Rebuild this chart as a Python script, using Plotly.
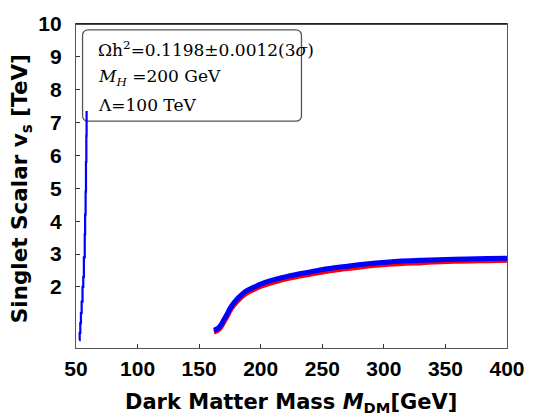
import plotly.graph_objects as go

# ---- data ----
left_x = [52.6, 53.0, 53.5, 54.0, 54.6, 55.3, 55.9, 56.4, 57.1, 57.4, 57.8, 58.1, 58.4, 58.6]
left_y = [0.38, 0.60, 0.90, 1.20, 1.55, 2.00, 2.30, 2.90, 3.60, 4.20, 4.90, 5.80, 6.60, 7.35]

band_x = [162, 165, 167.5, 170, 173, 175.5, 179, 183, 188, 195, 201, 214, 228, 241,
          254, 268, 281, 304, 331, 357, 384, 400]
blue_y = [0.68, 0.73, 0.83, 0.99, 1.19, 1.37, 1.55, 1.71, 1.87, 2.00, 2.10, 2.25, 2.37, 2.46,
          2.55, 2.62, 2.68, 2.76, 2.81, 2.84, 2.86, 2.87]
red_y = [0.62, 0.66, 0.75, 0.91, 1.11, 1.29, 1.47, 1.63, 1.79, 1.92, 2.02, 2.17, 2.29, 2.38,
         2.47, 2.54, 2.60, 2.68, 2.73, 2.77, 2.79, 2.80]

x_ticks = [50, 100, 150, 200, 250, 300, 350, 400]
y_ticks = [2, 3, 4, 5, 6, 7, 8, 9, 10]

legend_lines = [
    "Ωh<sup>2</sup>=0.1198±0.0012(3<i>σ</i>)",
    "<i>M</i><sub><i>H</i></sub> =200 GeV",
    "Λ=100 TeV",
]

# ---- figure ----
W, H = 537, 420
L, R, T, B = 76, 20, 18, 72
pw, ph = W - L - R, H - T - B

fig = go.Figure()
fig.add_trace(go.Scatter(x=band_x, y=red_y, mode="lines",
                         line=dict(color="rgb(255,0,0)", width=4.5, shape="spline", smoothing=1.0),
                         hoverinfo="skip", showlegend=False))
fig.add_trace(go.Scatter(x=band_x, y=blue_y, mode="lines",
                         line=dict(color="rgb(0,0,255)", width=5, shape="spline", smoothing=1.0),
                         hoverinfo="skip", showlegend=False))
fig.add_trace(go.Scatter(x=left_x, y=left_y, mode="lines",
                         line=dict(color="rgb(0,0,255)", width=2.2, shape="hv"),
                         hoverinfo="skip", showlegend=False))

tickfont = dict(family="Liberation Sans, Arial, sans-serif", size=21, color="black")
axis_common = dict(showgrid=False, zeroline=False, showline=True, linecolor="#555",
                   linewidth=1.3, mirror=True, ticks="inside", ticklen=4,
                   tickcolor="#333", tickwidth=1, tickfont=tickfont)

fig.update_xaxes(range=[50, 400], tickvals=x_ticks,
                 ticktext=[f"<b>{v}</b>" for v in x_ticks],
                 ticklabelstandoff=2, **axis_common)
fig.update_yaxes(range=[0.14, 10], tickvals=y_ticks,
                 ticktext=[f"<b>{v}</b>" for v in y_ticks],
                 ticklabelstandoff=9, **axis_common)

# darker top frame line
fig.add_shape(type="line", xref="paper", yref="paper", x0=0, x1=1, y0=1, y1=1,
              line=dict(color="#111", width=1.3))

# rounded legend box (paper coords)
x0p, x1p = (82.7 - L) / pw, (306.7 - L) / pw
y1p, y0p = (H - B - 24) / ph, (H - B - 117) / ph
rx, ry = 6 / pw, 6 / ph
path = (f"M {x0p+rx},{y1p} L {x1p-rx},{y1p} Q {x1p},{y1p} {x1p},{y1p-ry} "
        f"L {x1p},{y0p+ry} Q {x1p},{y0p} {x1p-rx},{y0p} "
        f"L {x0p+rx},{y0p} Q {x0p},{y0p} {x0p},{y0p+ry} "
        f"L {x0p},{y1p-ry} Q {x0p},{y1p} {x0p+rx},{y1p} Z")
fig.add_shape(type="path", path=path, xref="paper", yref="paper",
              line=dict(color="#555", width=1.3), fillcolor="white", layer="below")

serif = dict(family="DejaVu Serif, serif", size=17, color="black")
for txt, py in zip(legend_lines, [43, 72, 100]):
    fig.add_annotation(text=txt, xref="paper", yref="paper",
                       x=(96 - L) / pw, y=(H - B - py) / ph,
                       xanchor="left", yanchor="middle", showarrow=False, font=serif)

titlefont = dict(family="DejaVu Sans, sans-serif", size=21, color="black")
fig.add_annotation(text="<b>Dark Matter Mass <i>M</i><sub>DM</sub>[GeV]</b>",
                   xref="paper", yref="paper", x=(296 - L) / pw, y=(H - B - 404) / ph,
                   xanchor="center", yanchor="middle", showarrow=False, font=titlefont)
fig.add_annotation(text="<b>Singlet Scalar v<sub>s</sub> [TeV]</b>",
                   xref="paper", yref="paper", x=(21 - L) / pw, y=(H - B - 186) / ph,
                   xanchor="center", yanchor="middle", textangle=-90,
                   showarrow=False, font=dict(titlefont, size=21.5))

fig.update_layout(width=W, height=H, margin=dict(l=L, r=R, t=T, b=B),
                  paper_bgcolor="white", plot_bgcolor="white")

fig.write_html("out.html", config={"displayModeBar": False},
               post_script="document.body.style.margin='0';document.body.style.padding='0';"
                           "document.body.style.overflow='hidden';")
